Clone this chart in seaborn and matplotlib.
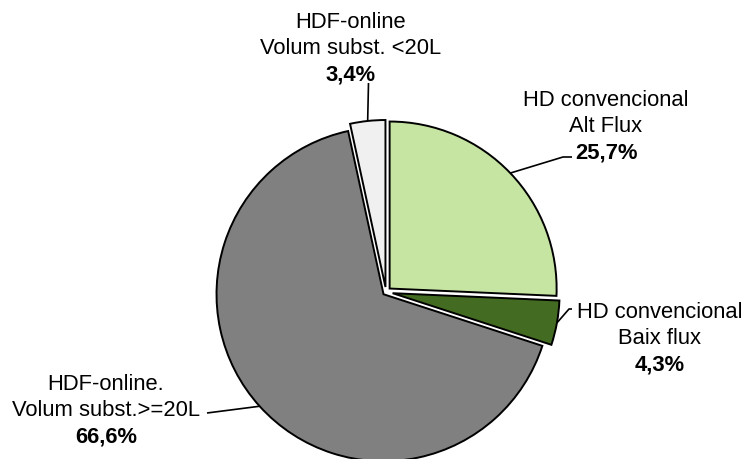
import numpy as np
import matplotlib
matplotlib.use("Agg")
import matplotlib.pyplot as plt
import seaborn as sns

sns.set_theme(style="white")
plt.rcParams['font.family'] = ['Liberation Sans', 'DejaVu Sans']

# ---- data ----
categories = ["HD convencional\nAlt Flux", "HD convencional\nBaix flux",
              "HDF-online.\nVolum subst.>=20L", "HDF-online\nVolum subst. <20L"]
values = [25.7, 4.3, 66.6, 3.4]
pct_labels = ["25,7%", "4,3%", "66,6%", "3,4%"]
colors = ["#C6E5A2", "#436B21", "#808080", "#F0F0F0"]
explode = [0.03, 0.04, 0.02, 0.03]

W, H = 744, 459
CX, CY, R = 386, 292, 167  # pie centre / radius in pixels

fig = plt.figure(figsize=(W / 100, H / 100), dpi=100)
ax = fig.add_axes([0, 0, 1, 1])

def P(px, py):
    return ((px - CX) / R, (CY - py) / R)

wedges, _ = ax.pie(values, colors=colors, startangle=90, counterclock=False,
                   explode=explode, radius=1.0,
                   wedgeprops=dict(edgecolor="black", linewidth=1.4))
ax.set_aspect("auto")
x0, _ = P(0, 0)
x1, _ = P(W, 0)
_, y1 = P(0, 0)
_, y0 = P(0, H)
ax.set_xlim(x0, x1)
ax.set_ylim(y0, y1)
ax.axis("off")

# label layout: (text centre x px, first line y px, line step), leader path (pixels after wedge point)
layouts = [
    (606, 101, 26, [(563, 157), (572, 157)]),
    (660, 313, 26, [(569, 309), (572, 309)]),
    (106, 385, 26, [(207, 413)]),
    (351, 22, 26.5, [(368.5, 83)]),
]

fs = 15.8
for w, cat, pct, ex, (tx, ty, step, path) in zip(wedges, categories, pct_labels, explode, layouts):
    mid = np.deg2rad((w.theta1 + w.theta2) / 2)
    r = 1.0 + ex
    sx, sy = r * np.cos(mid), r * np.sin(mid)
    pts = [(sx, sy)] + [P(*p) for p in path]
    xs, ys = zip(*pts)
    ax.plot(xs, ys, color="black", lw=1.2, solid_capstyle="butt")
    lines = cat.split("\n")
    for i, ln in enumerate(lines):
        ax.text(*P(tx, ty + i * step), ln, ha="center", va="center", fontsize=fs, color="black")
    ax.text(*P(tx, ty + len(lines) * step), pct, ha="center", va="center",
            fontsize=fs, fontweight="bold", color="black")

fig.savefig("out.png", dpi=100)
